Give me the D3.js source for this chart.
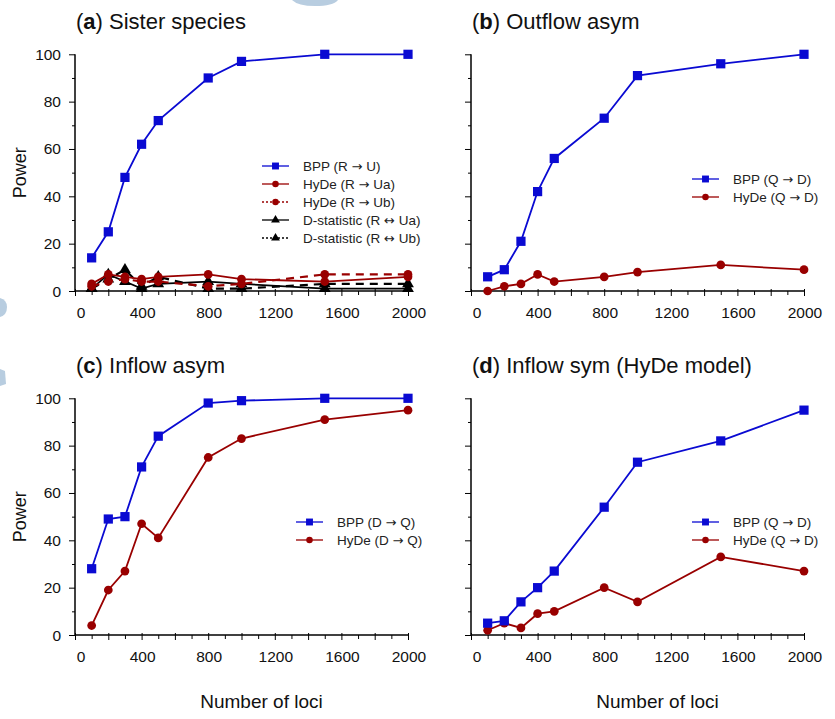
<!DOCTYPE html>
<html>
<head>
<meta charset="utf-8">
<script src="https://cdn.jsdelivr.net/npm/d3@7/dist/d3.min.js"></script>
<style>
  body { margin: 0; background: #fff; }
  svg { font-family: "Liberation Sans", Arial, Helvetica, sans-serif; }
</style>
</head>
<body>
<div id="chart"></div>
<script>
// number of loci, shared by all panels
var loci = [100, 200, 300, 400, 500, 800, 1000, 1500, 2000];
var xTicks = [0, 400, 800, 1200, 1600, 2000];
var yTicks = [0, 20, 40, 60, 80, 100];

// (a) Sister species
var aBpp = [14, 25, 48, 62, 72, 90, 97, 100, 100];
var aHydeUa = [3, 7, 6, 5, 6, 7, 5, 4, 6];
var aHydeUb = [2, 4, 5, 4, 4, 2, 3, 7, 7];
var aDstatUa = [1, 7, 4, 1, 3, 4, 3, 1, 1];
var aDstatUb = [1, 5, 9, 2, 6, 1, 1, 3, 3];

// (b) Outflow asym
var bBpp = [6, 9, 21, 42, 56, 73, 91, 96, 100];
var bHyde = [0, 2, 3, 7, 4, 6, 8, 11, 9];

// (c) Inflow asym
var cBpp = [28, 49, 50, 71, 84, 98, 99, 100, 100];
var cHyde = [4, 19, 27, 47, 41, 75, 83, 91, 95];

// (d) Inflow sym (HyDe model)
var dBpp = [5, 6, 14, 20, 27, 54, 73, 82, 95];
var dHyde = [2, 5, 3, 9, 10, 20, 14, 33, 27];

var blue = "#0a0ad2",
    red = "#990000",
    black = "#000";

var width = 835,
    height = 719;

var svg = d3.select("#chart")
    .append("svg")
    .attr("width", width)
    .attr("height", height);

// faint background shapes from the source page
var ghost = "#b8cde0";
svg.append("path").attr("fill", ghost)
    .attr("d", "M292,0 L338,0 Q333,6 315,6 Q298,6 292,0 Z");
svg.append("path").attr("fill", ghost)
    .attr("d", "M0,298 Q7,300 7,307 Q7,315 0,317 Z");
svg.append("path").attr("fill", ghost)
    .attr("d", "M0,369 L5,371 L6,384 L0,386 Z");

function panel(opts) {
    var x = d3.scaleLinear().domain([0, 2000]).range([opts.x0, opts.x0 + 333]);
    var y = d3.scaleLinear().domain([0, 100]).range([opts.y0, opts.y0 - 236.7]);

    var g = svg.append("g");

    // title
    var t = g.append("text")
        .attr("x", opts.x0 + 1)
        .attr("y", opts.y0 - 262)
        .attr("font-size", 22)
        .attr("fill", "#111");
    t.append("tspan").text("(");
    t.append("tspan").attr("font-weight", "bold").text(opts.letter);
    t.append("tspan").text(") " + opts.title);

    // y axis
    var yAxis = g.append("g")
        .attr("transform", "translate(" + opts.x0 + ",0)")
        .call(d3.axisLeft(y).tickValues(d3.range(0, 101, 10)).tickSize(3).tickFormat(""));
    yAxis.selectAll(".tick line")
        .attr("x2", function(d) { return d % 20 == 0 ? -6 : -3; })
        .attr("stroke-width", 1);
    yAxis.select(".domain").attr("stroke-width", 1.5).attr("d", "M0," + y(0) + "V" + y(100));

    if (opts.yLabels) {
        g.selectAll("text.ytick")
            .data(yTicks)
            .enter()
            .append("text")
            .attr("class", "ytick")
            .attr("x", opts.x0 - 14)
            .attr("y", function(d) { return y(d) + 5.5; })
            .attr("text-anchor", "end")
            .attr("font-size", 15.5)
            .attr("fill", "#111")
            .text(function(d) { return d; });

        g.append("text")
            .attr("transform", "translate(" + (opts.x0 - 49) + "," + y(50) + ")rotate(-90)")
            .attr("text-anchor", "middle")
            .attr("font-size", 18)
            .attr("fill", "#111")
            .text("Power");
    }

    // x axis
    var xAxis = g.append("g")
        .attr("transform", "translate(0," + opts.y0 + ")")
        .call(d3.axisBottom(x).tickValues(d3.range(0, 2001, 100)).tickSize(3).tickFormat(""));
    xAxis.selectAll(".tick line")
        .attr("y1", function(d) { return d % 200 == 0 ? -2 : 0; })
        .attr("y2", function(d) { return d % 200 == 0 ? 5 : 4; })
        .attr("stroke-width", 1);
    xAxis.select(".domain").attr("stroke-width", 1.5).attr("d", "M" + x(0) + ",0H" + x(2000));

    g.selectAll("text.xtick")
        .data(xTicks)
        .enter()
        .append("text")
        .attr("class", "xtick")
        .attr("x", function(d) { return x(d) + (d == 0 ? 6 : 1); })
        .attr("y", opts.y0 + 27)
        .attr("text-anchor", "middle")
        .attr("font-size", 15.5)
        .attr("fill", "#111")
        .text(function(d) { return d; });

    if (opts.xTitle) {
        g.append("text")
            .attr("x", x(1120))
            .attr("y", opts.y0 + 73)
            .attr("text-anchor", "middle")
            .attr("font-size", 19)
            .attr("fill", "#111")
            .text("Number of loci");
    }

    var line = d3.line()
        .x(function(d) { return x(d[0]); })
        .y(function(d) { return y(d[1]); });

    // series: drawn in reverse so the first listed ends up on top
    opts.series.slice().reverse().forEach(function(s) {
        var pts = d3.zip(loci, s.values);
        g.append("path")
            .attr("d", line(pts))
            .attr("fill", "none")
            .attr("stroke", s.color)
            .attr("stroke-width", s.dash ? 2.2 : 1.8)
            .attr("stroke-dasharray", s.dash ? "8,6" : null);
        g.selectAll(null)
            .data(pts)
            .enter()
            .append("path")
            .attr("transform", function(d) { return "translate(" + x(d[0]) + "," + y(d[1]) + ")"; })
            .attr("d", marker(s.shape, 1))
            .attr("fill", s.color);
    });

    // legend
    opts.series.forEach(function(s, i) {
        var ly = opts.ly + i * 18;
        g.append("line")
            .attr("x1", opts.lx)
            .attr("x2", opts.lx + 27)
            .attr("y1", ly)
            .attr("y2", ly)
            .attr("stroke", s.color)
            .attr("stroke-width", 1.3)
            .attr("stroke-dasharray", s.dash ? "2,2" : null);
        g.append("path")
            .attr("transform", "translate(" + (opts.lx + 13.5) + "," + ly + ")")
            .attr("d", marker(s.shape, 0.75))
            .attr("fill", s.color);
        var lt = g.append("text")
            .attr("x", opts.lx + 41)
            .attr("y", ly + 5)
            .attr("font-size", 13.5)
            .attr("fill", "#222");
        // arrows come from DejaVu, the Liberation glyph is too short
        var parts = s.name.split(/([\u2192\u2194])/);
        parts.forEach(function(p) {
            var sp = lt.append("tspan").text(p);
            if (p == "\u2192" || p == "\u2194") sp.attr("font-family", "DejaVu Sans").attr("font-size", 13);
        });
    });
}

function marker(shape, k) {
    if (shape == "square") return d3.symbol(d3.symbolSquare, 85 * k * k)();
    if (shape == "circle") return d3.symbol(d3.symbolCircle, 60 * k * k)();
    return d3.symbol(d3.symbolTriangle, 60 * k * k)();
}

panel({
    x0: 75, y0: 291, letter: "a", title: "Sister species",
    yLabels: true, xTitle: false, lx: 262, ly: 166,
    series: [
        { name: "BPP (R \u2192 U)", values: aBpp, color: blue, shape: "square" },
        { name: "HyDe (R \u2192 Ua)", values: aHydeUa, color: red, shape: "circle" },
        { name: "HyDe (R \u2192 Ub)", values: aHydeUb, color: red, shape: "circle", dash: true },
        { name: "D-statistic (R \u2194 Ua)", values: aDstatUa, color: black, shape: "triangle" },
        { name: "D-statistic (R \u2194 Ub)", values: aDstatUb, color: black, shape: "triangle", dash: true }
    ]
});

panel({
    x0: 471, y0: 291, letter: "b", title: "Outflow asym",
    yLabels: false, xTitle: false, lx: 692, ly: 179,
    series: [
        { name: "BPP (Q \u2192 D)", values: bBpp, color: blue, shape: "square" },
        { name: "HyDe (Q \u2192 D)", values: bHyde, color: red, shape: "circle" }
    ]
});

panel({
    x0: 75, y0: 635, letter: "c", title: "Inflow asym",
    yLabels: true, xTitle: true, lx: 296, ly: 522,
    series: [
        { name: "BPP (D \u2192 Q)", values: cBpp, color: blue, shape: "square" },
        { name: "HyDe (D \u2192 Q)", values: cHyde, color: red, shape: "circle" }
    ]
});

panel({
    x0: 471, y0: 635, letter: "d", title: "Inflow sym (HyDe model)",
    yLabels: false, xTitle: true, lx: 692, ly: 522,
    series: [
        { name: "BPP (Q \u2192 D)", values: dBpp, color: blue, shape: "square" },
        { name: "HyDe (Q \u2192 D)", values: dHyde, color: red, shape: "circle" }
    ]
});
</script>
</body>
</html>
